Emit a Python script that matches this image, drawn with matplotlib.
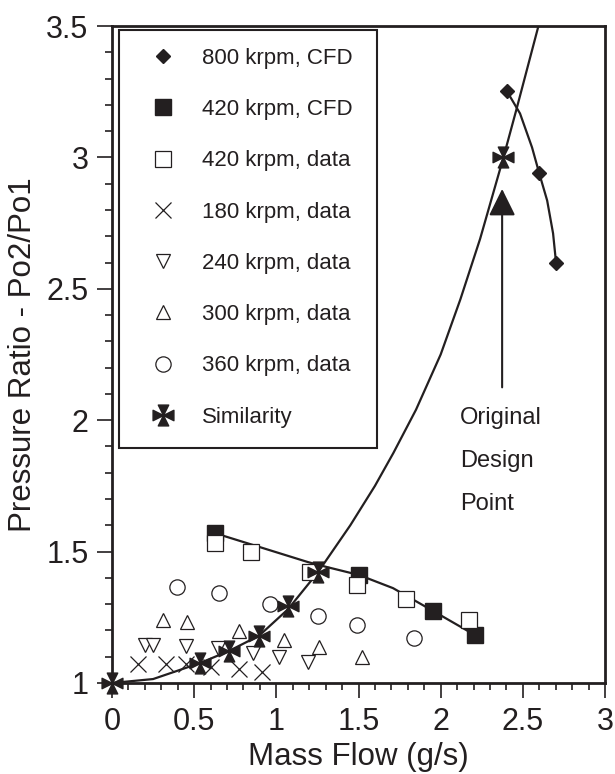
"""Compressor map: pressure ratio vs mass flow, CFD vs rig data vs similarity."""

import matplotlib
matplotlib.use("Agg")
import matplotlib.pyplot as plt
import matplotlib.patches as mpatches
from matplotlib.path import Path
from matplotlib.ticker import MultipleLocator, FuncFormatter

INK = "#231f20"
plt.rcParams["font.family"] = ["Liberation Sans", "DejaVu Sans"]

# --- data ---
cfd800_flow = [2.404, 2.600, 2.702]
cfd800_pr = [3.251, 2.939, 2.600]
cfd800_line_flow = [2.404, 2.483, 2.556, 2.600, 2.648, 2.684, 2.702]
cfd800_line_pr = [3.251, 3.167, 3.038, 2.939, 2.836, 2.711, 2.600]

cfd420_flow = [0.627, 1.503, 1.954, 2.210]
cfd420_pr = [1.570, 1.411, 1.274, 1.182]
cfd420_line_flow = [0.627, 0.900, 1.193, 1.309, 1.503, 1.710, 1.954, 2.210]
cfd420_line_pr = [1.570, 1.517, 1.460, 1.441, 1.411, 1.361, 1.274, 1.182]

data420_flow = [0.625, 0.846, 1.205, 1.490, 1.790, 2.170]
data420_pr = [1.532, 1.500, 1.422, 1.373, 1.320, 1.240]

data180_flow = [0.158, 0.329, 0.450, 0.600, 0.773, 0.913]
data180_pr = [1.072, 1.072, 1.072, 1.061, 1.053, 1.042]

data240_flow = [0.200, 0.250, 0.450, 0.647, 0.858, 1.016, 1.193]
data240_pr = [1.144, 1.144, 1.141, 1.132, 1.114, 1.099, 1.080]

data300_flow = [0.310, 0.457, 0.770, 1.047, 1.260, 1.520]
data300_pr = [1.240, 1.232, 1.198, 1.163, 1.137, 1.099]

data360_flow = [0.395, 0.651, 0.962, 1.254, 1.490, 1.840]
data360_pr = [1.365, 1.342, 1.300, 1.255, 1.220, 1.170]

sim_flow = [0.0, 0.536, 0.712, 0.895, 1.070, 1.254, 2.382]
sim_pr = [1.0, 1.076, 1.122, 1.180, 1.293, 1.422, 3.0]
sim_line_flow = [0.0, 0.25, 0.536, 0.712, 0.895, 1.070, 1.254, 1.450, 1.600,
                 1.712, 1.850, 2.000, 2.120, 2.240, 2.382, 2.460, 2.595]
sim_line_pr = [1.0, 1.015, 1.076, 1.122, 1.180, 1.280, 1.422, 1.600, 1.750,
               1.875, 2.040, 2.250, 2.460, 2.690, 3.0, 3.18, 3.5]

design_flow = 2.374
arrow_from_pr = 2.125
arrow_to_pr = 2.88


def similarity_marker() -> Path:
    w = 0.5
    tris = [
        [(0, 0), (1, -w), (1, w)],
        [(0, 0), (w, 1), (-w, 1)],
        [(0, 0), (-1, w), (-1, -w)],
        [(0, 0), (-w, -1), (w, -1)],
    ]
    verts, codes = [], []
    for t in tris:
        verts += t + [(0, 0)]
        codes += [Path.MOVETO, Path.LINETO, Path.LINETO, Path.CLOSEPOLY]
    return Path(verts, codes)


fig = plt.figure(figsize=(6.15, 7.74), dpi=100)
ax = fig.add_axes([112 / 615, 1 - 683 / 774, 493 / 615, 657 / 774])

open_kw = dict(linestyle="none", markerfacecolor="white", markeredgecolor=INK,
               markeredgewidth=0.9)

ax.plot(cfd800_line_flow, cfd800_line_pr, color=INK, lw=1.6)
ax.plot(cfd420_line_flow, cfd420_line_pr, color=INK, lw=1.6)
ax.plot(sim_line_flow, sim_line_pr, color=INK, lw=1.6)

ax.plot(cfd800_flow, cfd800_pr, "D", color=INK, ms=7.5, label="800 krpm, CFD")
ax.plot(cfd420_flow, cfd420_pr, "s", color=INK, ms=11, label="420 krpm, CFD")
ax.plot(data420_flow, data420_pr, "s", ms=11, label="420 krpm, data", **open_kw)
ax.plot(data180_flow, data180_pr, "x", color=INK, ms=11, mew=0.9,
        linestyle="none", label="180 krpm, data")
ax.plot(data240_flow, data240_pr, "v", ms=10.5, label="240 krpm, data", **open_kw)
ax.plot(data300_flow, data300_pr, "^", ms=10.5, label="300 krpm, data", **open_kw)
ax.plot(data360_flow, data360_pr, "o", ms=11, label="360 krpm, data", **open_kw)
ax.plot(sim_flow, sim_pr, marker=similarity_marker(), color=INK, ms=15,
        linestyle="none", clip_on=False, zorder=5, label="Similarity")

ax.annotate(
    "", xy=(design_flow, arrow_to_pr), xytext=(design_flow, arrow_from_pr),
    arrowprops=dict(arrowstyle="-|>,head_length=0.83,head_width=0.41",
                    mutation_scale=20, lw=1.5, color=INK, shrinkA=0, shrinkB=0),
)
for label, y in zip(["Original", "Design", "Point"], [2.008, 1.843, 1.683]):
    ax.text(2.118, y, label, fontsize=17, color=INK, ha="left", va="center")

ax.set_xlim(0, 3)
ax.set_ylim(1, 3.5)
ax.xaxis.set_major_locator(MultipleLocator(0.5))
ax.xaxis.set_minor_locator(MultipleLocator(0.1))
ax.yaxis.set_major_locator(MultipleLocator(0.5))
ax.yaxis.set_minor_locator(MultipleLocator(0.1))
fmt = FuncFormatter(lambda v, _: f"{v:g}")
ax.xaxis.set_major_formatter(fmt)
ax.yaxis.set_major_formatter(fmt)
ax.tick_params(which="both", direction="out", color=INK, width=1.2,
               labelsize=22, labelcolor=INK, top=False, right=False)
ax.tick_params(which="major", length=11, pad=6)
ax.tick_params(which="minor", length=5)
for s in ax.spines.values():
    s.set_linewidth(2)
    s.set_color(INK)

ax.set_xlabel("Mass Flow (g/s)", fontsize=22.5, color=INK, labelpad=4)
ax.set_ylabel("Pressure Ratio - Po2/Po1", fontsize=22.5, color=INK, labelpad=6)

ax.add_patch(mpatches.Rectangle(
    (7 / 493, (683 - 448) / 657), 258 / 493, 418 / 657,
    transform=ax.transAxes, fill=False, lw=1.5, edgecolor=INK, zorder=6,
))
ax.legend(
    loc="upper left", bbox_to_anchor=(40 / 493, (683 - 48) / 657),
    frameon=False, fontsize=16, borderpad=0, borderaxespad=0,
    handlelength=1.0, handletextpad=1.27, labelspacing=1.36,
    labelcolor=INK, numpoints=1,
)

fig.savefig("out.png", dpi=100)
